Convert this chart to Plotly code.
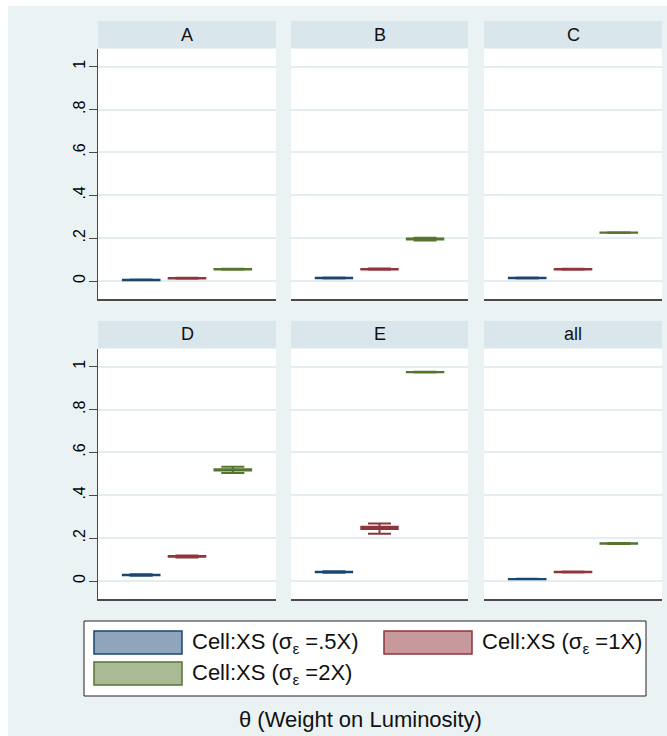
import plotly.graph_objects as go

W, H = 667, 736

# ---- data -------------------------------------------------------------
panels = ["A", "B", "C", "D", "E", "all"]
series_labels = [
    "Cell:XS (σ<sub>ε</sub> =.5X)",
    "Cell:XS (σ<sub>ε</sub> =1X)",
    "Cell:XS (σ<sub>ε</sub> =2X)",
]
y_tick_vals = [0, 0.2, 0.4, 0.6, 0.8, 1.0]
y_tick_text = ["0", ".2", ".4", ".6", ".8", "1"]

# sigma = .5X   (one value per panel: A, B, C, D, E, all)
half_med = [0.005, 0.014, 0.014, 0.028, 0.042, 0.009]
half_q1 = [0.004, 0.013, 0.013, 0.027, 0.041, 0.0085]
half_q3 = [0.006, 0.015, 0.015, 0.029, 0.043, 0.0095]
half_lo = [0.003, 0.012, 0.012, 0.025, 0.039, 0.008]
half_hi = [0.007, 0.016, 0.016, 0.031, 0.045, 0.010]

# sigma = 1X
one_med = [0.013, 0.055, 0.055, 0.115, 0.248, 0.042]
one_q1 = [0.012, 0.054, 0.054, 0.113, 0.243, 0.041]
one_q3 = [0.014, 0.056, 0.056, 0.117, 0.253, 0.043]
one_lo = [0.011, 0.052, 0.053, 0.110, 0.221, 0.040]
one_hi = [0.015, 0.058, 0.057, 0.119, 0.268, 0.044]

# sigma = 2X
two_med = [0.055, 0.196, 0.226, 0.519, 0.975, 0.175]
two_q1 = [0.054, 0.194, 0.225, 0.516, 0.974, 0.174]
two_q3 = [0.056, 0.198, 0.227, 0.522, 0.976, 0.176]
two_lo = [0.053, 0.189, 0.224, 0.504, 0.973, 0.173]
two_hi = [0.057, 0.202, 0.228, 0.533, 0.977, 0.177]

series_stats = [
    (half_med, half_q1, half_q3, half_lo, half_hi),
    (one_med, one_q1, one_q3, one_lo, one_hi),
    (two_med, two_q1, two_q3, two_lo, two_hi),
]

# ---- style ------------------------------------------------------------
FONT = "Liberation Sans, Arial, Helvetica, sans-serif"
OUTER_BG = "#EAF2F3"
STRIP_BG = "#D9E6EB"
GRID = "#E4EDF0"
AXIS = "#4A4A4A"
line_colors = ["#1A476F", "#90353B", "#55752F"]
fill_colors = ["#8FA5BC", "#C8999C", "#AABA97"]


def px_x(p):
    return p / W


def px_y(p):
    return 1 - p / H


# panel geometry in pixels
col_x = [(98, 276), (291, 468), (484, 662)]
row_plot = [(49, 299), (349, 599)]
row_strip = [(21, 48), (321, 348)]

fig = go.Figure()
layout_axes = {}
shapes = []
annotations = []

for i, name in enumerate(panels):
    r, c = divmod(i, 3)
    ax = "" if i == 0 else str(i + 1)
    x0, x1 = col_x[c]
    ytop, ybot = row_plot[r]

    layout_axes["xaxis" + ax] = dict(
        domain=[px_x(x0), px_x(x1)],
        range=[-0.943, 2.943],
        anchor="y" + ax,
        showgrid=False,
        zeroline=False,
        showticklabels=False,
        ticks="",
        showline=True,
        linecolor=AXIS,
        linewidth=1.5,
        fixedrange=True,
    )
    yax = dict(
        domain=[px_y(ybot), px_y(ytop)],
        range=[-0.084, 1.083],
        anchor="x" + ax,
        tickvals=y_tick_vals,
        ticktext=y_tick_text,
        showgrid=True,
        gridcolor=GRID,
        gridwidth=1.5,
        zeroline=False,
        fixedrange=True,
    )
    if c == 0:
        yax.update(
            showticklabels=True,
            ticks="outside",
            ticklen=8,
            tickwidth=1,
            tickcolor=AXIS,
            tickangle=-90,
            ticklabelstandoff=-2,
            tickfont=dict(family=FONT, size=16, color="#000000"),
            showline=True,
            linecolor=AXIS,
            linewidth=1.2,
        )
    else:
        yax.update(showticklabels=False, ticks="", showline=False)
    layout_axes["yaxis" + ax] = yax

    # strip header
    s0, s1 = row_strip[r]
    shapes.append(dict(type="rect", xref="paper", yref="paper",
                       x0=px_x(x0), x1=px_x(x1), y0=px_y(s1), y1=px_y(s0),
                       fillcolor=STRIP_BG, line=dict(width=0), layer="below"))
    annotations.append(dict(xref="paper", yref="paper",
                            x=px_x((x0 + x1) / 2), y=px_y((s0 + s1) / 2),
                            text=name, showarrow=False,
                            xanchor="center", yanchor="middle",
                            font=dict(family=FONT, size=18, color="#111111")))

    # one box per series
    for k, (med, q1, q3, lo, hi) in enumerate(series_stats):
        fig.add_trace(go.Box(
            x=[k], median=[med[i]], q1=[q1[i]], q3=[q3[i]],
            lowerfence=[lo[i]], upperfence=[hi[i]],
            width=0.8, whiskerwidth=0.63,
            fillcolor=fill_colors[k],
            line=dict(color=line_colors[k], width=2),
            xaxis="x" + ax, yaxis="y" + ax,
            showlegend=False, hoverinfo="skip",
        ))

# white margin strips around the graph region
shapes.append(dict(type="rect", xref="paper", yref="paper",
                   x0=0, x1=px_x(8), y0=0, y1=1,
                   fillcolor="white", line=dict(width=0), layer="below"))
shapes.append(dict(type="rect", xref="paper", yref="paper",
                   x0=0, x1=1, y0=px_y(6), y1=1,
                   fillcolor="white", line=dict(width=0), layer="below"))

# legend box
shapes.append(dict(type="rect", xref="paper", yref="paper",
                   x0=px_x(84), x1=px_x(646), y0=px_y(696), y1=px_y(621),
                   fillcolor="white", line=dict(color="#222222", width=1)))
legend_slots = [(94, 631, 190), (384, 631, 480), (94, 662, 190)]
for k, (sx, sy, tx) in enumerate(legend_slots):
    shapes.append(dict(type="rect", xref="paper", yref="paper",
                       x0=px_x(sx), x1=px_x(sx + 88),
                       y0=px_y(sy + 23), y1=px_y(sy),
                       fillcolor=fill_colors[k],
                       line=dict(color=line_colors[k], width=1.5)))
    annotations.append(dict(xref="paper", yref="paper",
                            x=px_x(tx), y=px_y(sy + 11.5),
                            text=series_labels[k], showarrow=False,
                            xanchor="left", yanchor="middle",
                            font=dict(family=FONT, size=22, color="#111111")))

# axis title
annotations.append(dict(xref="paper", yref="paper",
                        x=px_x(360), y=px_y(719),
                        text="θ (Weight on Luminosity)", showarrow=False,
                        xanchor="center", yanchor="middle",
                        font=dict(family=FONT, size=22, color="#111111")))

fig.update_layout(
    width=W, height=H,
    margin=dict(l=0, r=0, t=0, b=0),
    paper_bgcolor=OUTER_BG,
    plot_bgcolor="white",
    boxmode="overlay",
    showlegend=False,
    shapes=shapes,
    annotations=annotations,
    **layout_axes,
)

fig.write_html("out.html")
